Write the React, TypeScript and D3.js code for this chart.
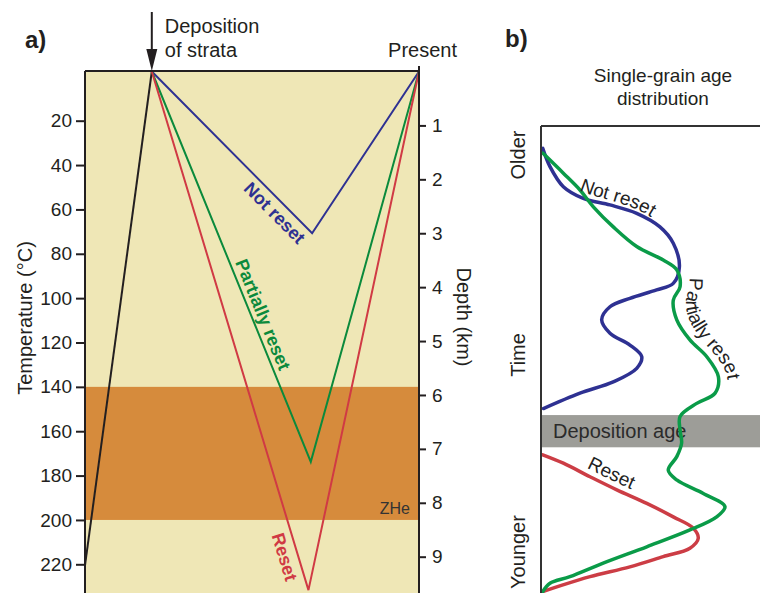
import React, { useEffect, useRef } from 'react';
import * as d3 from 'd3';

// ---- panel a: burial / exhumation paths ----
const tempTicks = [20, 40, 60, 80, 100, 120, 140, 160, 180, 200, 220];
const depthTicks = [1, 2, 3, 4, 5, 6, 7, 8, 9];
const zheBand = [140, 200]; // °C
const depositionTime = 20;

// [time (0 = start, 100 = present), depth km]
const burialPath: [number, number][] = [[0, 9.16], [20, 0]];
const notResetPath: [number, number][] = [[20, 0], [68, 3.0], [100, 0]];
const partialPath: [number, number][] = [[20, 0], [67.6, 7.24], [100, 0]];
const resetPath: [number, number][] = [[20, 0], [66.9, 9.62], [100, 0]];

// ---- panel b: single-grain age distributions ----
// [relative frequency 0-100, relative age 0 (younger) - 100 (older)]
const notResetDist: [number, number][] = [
  [0.8, 95.2], [4.1, 91.3], [10.2, 87.0], [19.3, 84.5], [31.5, 83.1], [43.7, 81.3],
  [54.3, 78.4], [60.4, 74.9], [63.2, 69.9], [60.4, 66.3], [52.8, 64.9], [40.6, 63.1],
  [31.5, 61.3], [27.7, 58.5], [31.5, 55.6], [40.6, 53.1], [46.0, 50.6], [43.7, 48.1],
  [33.0, 45.2], [17.8, 42.8], [1.1, 39.5],
];
const partialDist: [number, number][] = [
  [0.8, 94.2], [10.2, 89.9], [17.8, 86.3], [23.9, 82.7], [33.0, 78.4], [43.7, 74.2],
  [55.8, 71.3], [62.0, 69.2], [63.5, 65.6], [60.4, 62.7], [62.0, 58.5], [68.0, 54.2],
  [75.7, 50.6], [81.0, 46.3], [79.5, 42.8], [71.1, 40.6], [63.5, 37.8], [63.5, 34.9],
  [64.2, 32.1], [62.0, 29.2], [58.1, 26.3], [62.0, 24.2], [74.1, 21.3], [84.0, 18.5],
  [80.2, 16.3], [68.0, 13.5], [48.3, 9.9], [28.4, 6.4], [13.2, 3.5], [4.1, 2.1], [0.8, 0.3],
];
const resetDist: [number, number][] = [
  [0.8, 29.6], [10.2, 27.8], [22.4, 24.9], [34.6, 22.1], [48.3, 19.2], [60.4, 16.3],
  [69.5, 13.9], [71.8, 11.7], [68.0, 9.6], [55.8, 7.8], [40.6, 5.6], [22.4, 3.5],
  [7.2, 1.3], [0.8, 0.3],
];
const depositionAge = [31.2, 38.1];

const FONT = '"Liberation Sans", Arial, sans-serif';
const BLUE = '#2e3192';
const GREEN_A = '#0b8a3c';
const GREEN_B = '#0a9b48';
const RED_A = '#d03a44';
const RED_B = '#cc3d45';
const INK = '#231f20';

export default function App() {
  const ref = useRef<SVGSVGElement>(null);

  useEffect(() => {
    const svg = d3.select(ref.current);
    svg.selectAll('*').remove();

    // ================= panel a =================
    const x = d3.scaleLinear().domain([0, 100]).range([85, 419]);
    const yT = d3.scaleLinear().domain([20, 220]).range([120.7, 564.3]);
    const yD = d3.scaleLinear().domain([0, 9]).range([71.5, 556.7]);
    const top = 71, bottom = 600;

    const ga = svg.append('g');
    ga.append('rect').attr('x', x(0)).attr('y', top)
      .attr('width', x(100) - x(0)).attr('height', bottom - top).attr('fill', '#efe7b6');
    ga.append('rect').attr('x', x(0)).attr('y', yT(zheBand[0]))
      .attr('width', x(100) - x(0)).attr('height', yT(zheBand[1]) - yT(zheBand[0]))
      .attr('fill', '#d68b3c');
    ga.append('text').attr('x', x(100) - 9).attr('y', yT(zheBand[1]) - 6)
      .attr('text-anchor', 'end').attr('font-family', FONT).attr('font-size', 16)
      .attr('fill', '#333').text('ZHe');

    const line = d3.line<[number, number]>().x(d => x(d[0])).y(d => yD(d[1]));
    const paths: [[number, number][], string][] = [
      [burialPath, INK], [notResetPath, BLUE], [partialPath, GREEN_A], [resetPath, RED_A],
    ];
    paths.forEach(([p, c]) => {
      ga.append('path').attr('d', line(p)).attr('fill', 'none')
        .attr('stroke', c).attr('stroke-width', 2).attr('stroke-linejoin', 'miter');
    });

    // labels along the descending limbs
    const limbLabel = (p: [number, number][], txt: string, color: string, along: number, off: number) => {
      const x0 = x(p[0][0]), y0 = yD(p[0][1]);
      const x1 = x(p[1][0]), y1 = yD(p[1][1]);
      const ang = Math.atan2(y1 - y0, x1 - x0);
      const cx = x0 + Math.cos(ang) * along, cy = y0 + Math.sin(ang) * along;
      ga.append('text')
        .attr('transform', `translate(${cx},${cy}) rotate(${(ang * 180) / Math.PI})`)
        .attr('y', off).attr('text-anchor', 'middle')
        .attr('font-family', FONT).attr('font-size', 18).attr('font-weight', 'bold')
        .attr('fill', color).text(txt);
    };
    limbLabel(notResetPath, 'Not reset', BLUE, 187, 18.5);
    limbLabel(partialPath, 'Partially reset', GREEN_A, 267, -5);
    limbLabel(resetPath, 'Reset', RED_A, 503, 19.5);

    // frame
    ga.append('line').attr('x1', x(0)).attr('x2', x(0)).attr('y1', top).attr('y2', bottom)
      .attr('stroke', INK).attr('stroke-width', 2);
    ga.append('line').attr('x1', x(0)).attr('x2', x(100)).attr('y1', top).attr('y2', top)
      .attr('stroke', INK).attr('stroke-width', 2);
    ga.append('line').attr('x1', x(100)).attr('x2', x(100)).attr('y1', top - 5).attr('y2', bottom)
      .attr('stroke', INK).attr('stroke-width', 2);

    const left = ga.append('g').attr('transform', `translate(${x(0)},0)`)
      .call(d3.axisLeft(yT).tickValues(tempTicks).tickSize(9).tickPadding(4).tickSizeOuter(0));
    const right = ga.append('g').attr('transform', `translate(${x(100)},0)`)
      .call(d3.axisRight(yD).tickValues(depthTicks).tickSize(7).tickPadding(6).tickSizeOuter(0));
    [left, right].forEach(ax => {
      ax.select('.domain').remove();
      ax.selectAll('line').attr('stroke', INK).attr('stroke-width', 2);
      ax.selectAll('text').attr('font-family', FONT).attr('font-size', 19).attr('fill', INK);
    });

    ga.append('text').attr('transform', 'translate(32,318) rotate(-90)')
      .attr('text-anchor', 'middle').attr('font-family', FONT).attr('font-size', 20)
      .attr('fill', INK).text('Temperature (°C)');
    ga.append('text').attr('transform', 'translate(457,317) rotate(90)')
      .attr('text-anchor', 'middle').attr('font-family', FONT).attr('font-size', 20)
      .attr('fill', INK).text('Depth (km)');

    // deposition arrow
    const xd = x(depositionTime);
    ga.append('line').attr('x1', xd).attr('x2', xd).attr('y1', 12).attr('y2', 52)
      .attr('stroke', INK).attr('stroke-width', 2);
    ga.append('path').attr('d', `M${xd - 5.5},49L${xd + 5.5},49L${xd},${top}Z`).attr('fill', INK);
    ga.append('text').attr('x', xd + 13).attr('y', 33).attr('font-family', FONT)
      .attr('font-size', 20).attr('fill', INK).text('Deposition');
    ga.append('text').attr('x', xd + 13).attr('y', 57).attr('font-family', FONT)
      .attr('font-size', 20).attr('fill', INK).text('of strata');
    ga.append('text').attr('x', x(100) + 38).attr('y', 57).attr('text-anchor', 'end')
      .attr('font-family', FONT).attr('font-size', 20).attr('fill', INK).text('Present');
    ga.append('text').attr('x', 25).attr('y', 48).attr('font-family', FONT)
      .attr('font-size', 24).attr('font-weight', 'bold').attr('fill', INK).text('a)');

    // ================= panel b =================
    const xB = d3.scaleLinear().domain([0, 100]).range([541, 760]);
    const yB = d3.scaleLinear().domain([0, 100]).range([593, 126]);
    const gb = svg.append('g');

    gb.append('rect').attr('x', xB(0)).attr('y', yB(depositionAge[1]))
      .attr('width', xB(100) - xB(0)).attr('height', yB(depositionAge[0]) - yB(depositionAge[1]))
      .attr('fill', '#9d9d98');
    gb.append('text').attr('x', xB(0) + 12).attr('y', yB(depositionAge[0]) - 9)
      .attr('font-family', FONT).attr('font-size', 20).attr('fill', '#2b2b2b').text('Deposition age');

    const curve = d3.line<[number, number]>().x(d => xB(d[0])).y(d => yB(d[1]))
      .curve(d3.curveCatmullRom.alpha(0.5));
    const dists: [[number, number][], string][] = [
      [resetDist, RED_B], [notResetDist, BLUE], [partialDist, GREEN_B],
    ];
    dists.forEach(([p, c]) => {
      gb.append('path').attr('d', curve(p)).attr('fill', 'none')
        .attr('stroke', c).attr('stroke-width', 3.5).attr('stroke-linecap', 'round');
    });

    // curved labels following the distributions (smoothed guide paths)
    const defs = svg.append('defs');
    const curvedLabel = (id: string, p: [number, number][], dx: number, dy: number, txt: string, startOffset: number) => {
      const shifted = d3.line<[number, number]>().x(d => xB(d[0]) + dx).y(d => yB(d[1]) + dy)
        .curve(d3.curveBasis);
      defs.append('path').attr('id', id).attr('d', shifted(p));
      gb.append('text').attr('font-family', FONT).attr('font-size', 19).attr('fill', '#222')
        .append('textPath').attr('href', `#${id}`).attr('startOffset', startOffset).text(txt);
    };
    curvedLabel('lbl-notreset', notResetDist.slice(2, 9), 0, -5, 'Not reset', 18);
    curvedLabel('lbl-partial', partialDist.slice(7, 16), 11, 0, 'Partially reset', 8);
    curvedLabel('lbl-reset', resetDist.slice(1, 7), 0, -7, 'Reset', 26);

    gb.append('line').attr('x1', xB(0)).attr('x2', xB(0)).attr('y1', yB(100)).attr('y2', 600)
      .attr('stroke', '#333').attr('stroke-width', 2);
    gb.append('line').attr('x1', xB(0)).attr('x2', xB(100)).attr('y1', yB(100)).attr('y2', yB(100))
      .attr('stroke', '#333').attr('stroke-width', 2);

    const side = (txt: string, cy: number) => {
      gb.append('text').attr('transform', `translate(525,${cy}) rotate(-90)`)
        .attr('text-anchor', 'middle').attr('font-family', FONT).attr('font-size', 20)
        .attr('fill', INK).text(txt);
    };
    side('Older', 155);
    side('Time', 355);
    side('Younger', 552);

    gb.append('text').attr('x', 663).attr('y', 82).attr('text-anchor', 'middle')
      .attr('font-family', FONT).attr('font-size', 19).attr('fill', INK).text('Single-grain age');
    gb.append('text').attr('x', 663).attr('y', 105).attr('text-anchor', 'middle')
      .attr('font-family', FONT).attr('font-size', 19).attr('fill', INK).text('distribution');
    gb.append('text').attr('x', 505).attr('y', 47).attr('font-family', FONT)
      .attr('font-size', 24).attr('font-weight', 'bold').attr('fill', INK).text('b)');
  }, []);

  return (
    <div style={{ position: 'absolute', left: 0, top: 0 }}>
      <svg ref={ref} width={760} height={593} style={{ display: 'block', background: '#fff' }} />
    </div>
  );
}
